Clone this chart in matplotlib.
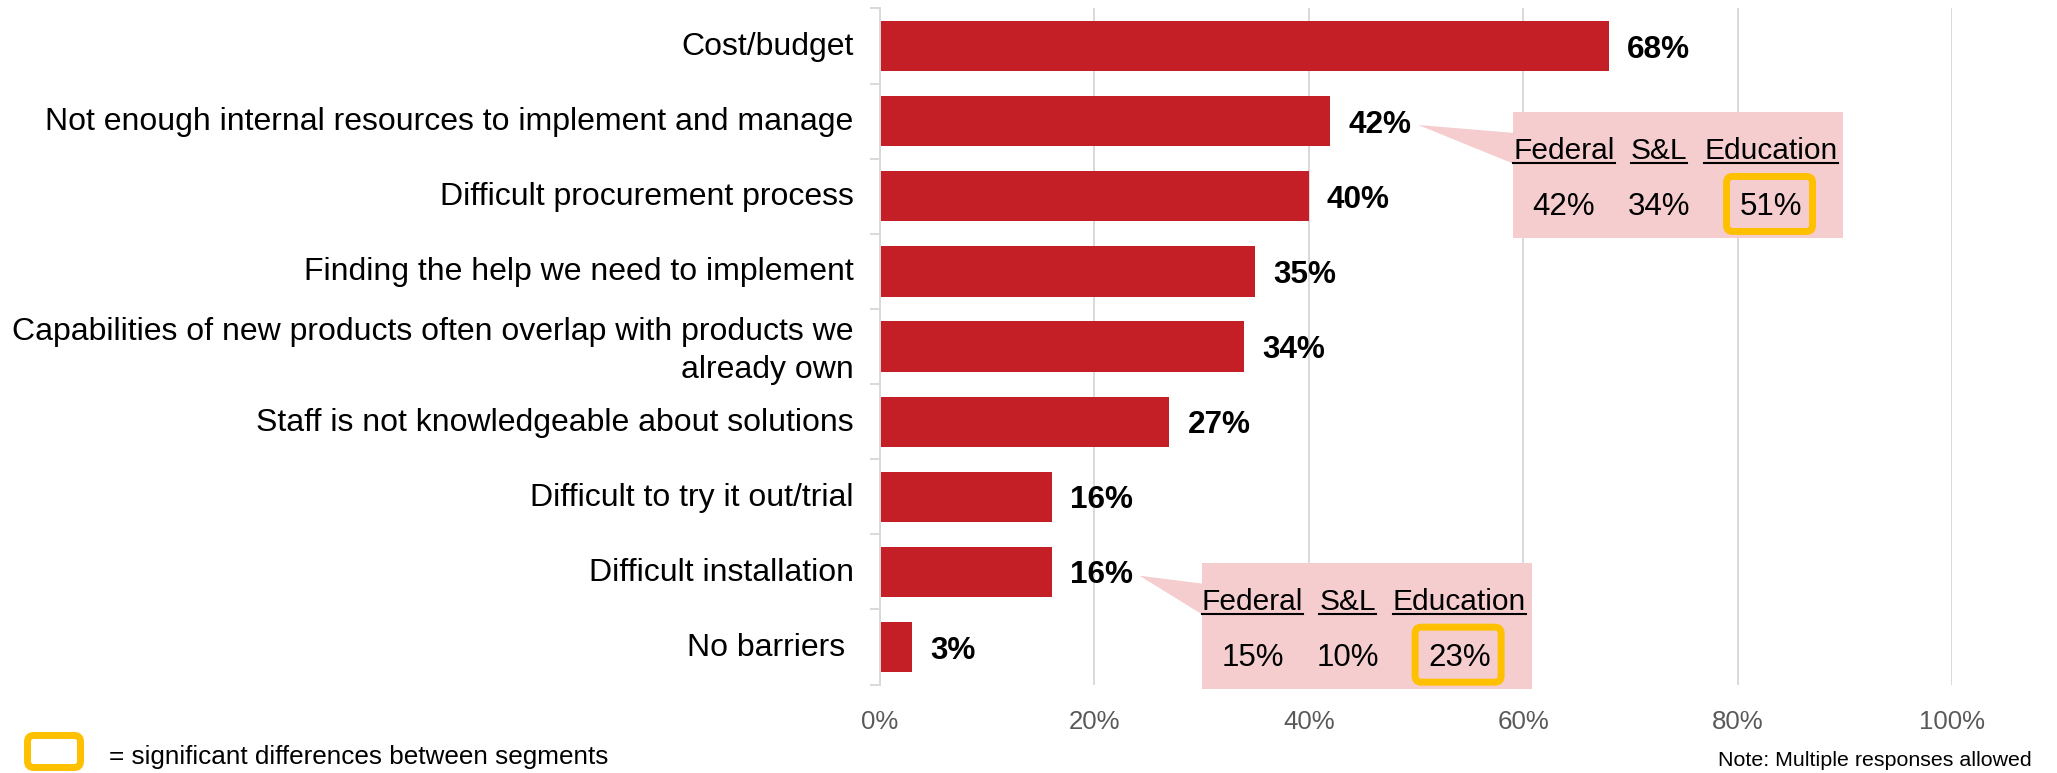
import matplotlib
matplotlib.use("Agg")
import matplotlib.pyplot as plt
from matplotlib.patches import FancyBboxPatch, Polygon, Rectangle
from matplotlib.lines import Line2D
from matplotlib.ticker import FixedLocator
from matplotlib.transforms import ScaledTranslation

plt.rcParams['font.family'] = ['Liberation Sans', 'DejaVu Sans']

# ---- data ----
categories = [
    "Cost/budget",
    "Not enough internal resources to implement and manage",
    "Difficult procurement process",
    "Finding the help we need to implement",
    "Capabilities of new products often overlap with products we\nalready own",
    "Staff is not knowledgeable about solutions",
    "Difficult to try it out/trial",
    "Difficult installation",
    "No barriers ",
]
values = [68, 42, 40, 35, 34, 27, 16, 16, 3]
x_ticks = [0, 20, 40, 60, 80, 100]
x_tick_labels = ["0%", "20%", "40%", "60%", "80%", "100%"]

segments = ["Federal", "S&L", "Education"]
resources_by_segment = [42, 34, 51]      # "Not enough internal resources..."
installation_by_segment = [15, 10, 23]   # "Difficult installation"
significant_segment = "Education"

legend_text = "= significant differences between segments"
note_text = "Note: Multiple responses allowed"

# ---- style ----
BAR = "#C41F26"
GRID = "#D9D9D9"
PINK = "#F5CDCE"
GOLD = "#FFC000"

W, H = 2057, 773
fig = plt.figure(figsize=(W / 100, H / 100), dpi=100)
fig.patch.set_facecolor("white")


def fig_xy(px, py):
    """Top-origin pixel position -> figure fraction."""
    return px / W, 1 - py / H


ax_top, ax_bot, ax_left, ax_right = 8.5, 684.6, 880, 1952
ax = fig.add_axes([ax_left / W, 1 - ax_bot / H,
                   (ax_right - ax_left) / W, (ax_bot - ax_top) / H])

ypos = list(range(len(categories)))
ax.barh(ypos, values, height=0.67, color=BAR, zorder=2)
ax.set_xlim(0, 100)
ax.set_ylim(len(categories) - 0.5, -0.5)

ax.set_xticks(x_ticks)
ax.set_xticklabels(x_tick_labels, fontsize=18.6, color="#595959")
ax.tick_params(axis="x", length=0, pad=18.5)
ax.xaxis.grid(True, color=GRID, lw=1.4, zorder=0)
ax.set_axisbelow(True)

ax.set_yticks(ypos)
ax.set_yticklabels(categories, fontsize=23, color="black", linespacing=1.33)
ax.tick_params(axis="y", which="major", length=0, pad=19)
nudge = ScaledTranslation(0, 2.6 / 100, fig.dpi_scale_trans)
for lab in ax.get_yticklabels():
    lab.set_transform(lab.get_transform() + nudge)
ax.yaxis.set_minor_locator(FixedLocator([i - 0.5 for i in range(len(categories) + 1)]))
ax.tick_params(axis="y", which="minor", length=7, width=1.4, color=GRID)

for side in ("top", "right", "bottom"):
    ax.spines[side].set_visible(False)
ax.spines["left"].set_color(GRID)
ax.spines["left"].set_linewidth(1.4)

for i, v in enumerate(values):
    ax.annotate(f"{v}%", xy=(v, i), xytext=(13, -2.5), textcoords="offset points",
                va="center", ha="left", fontsize=22.7, fontweight="bold", color="black")

fig.canvas.draw()
renderer = fig.canvas.get_renderer()


def draw_callout(idx, box_left_pct, seg_values):
    # tip of the pointer sits just right of the bar's value label
    tx, ty = ax.transData.transform((values[idx] + 8.2, idx + 0.05))
    ty = H - ty  # top-origin pixels
    bx, _ = ax.transData.transform((box_left_pct, idx))
    top = ty - 13
    bw, bh = 330, 126
    tf = fig.transFigure

    box = Rectangle(fig_xy(bx, top + bh), bw / W, bh / H, transform=tf,
                    facecolor=PINK, edgecolor="none", zorder=5)
    fig.add_artist(box)
    tri = Polygon([fig_xy(tx, ty), fig_xy(bx + 1, top + 21), fig_xy(bx + 1, top + 52)],
                  closed=True, transform=tf, facecolor=PINK, edgecolor="none", zorder=5)
    fig.add_artist(tri)

    col_x = [bx + 51, bx + 146, bx + 258]
    for cx, seg, val in zip(col_x, segments, seg_values):
        t = fig.text(*fig_xy(cx, top + 47), seg, ha="center", va="baseline",
                     fontsize=21.5, color="black", zorder=6)
        ext = t.get_window_extent(renderer)
        uy = top + 51
        fig.add_artist(Line2D([ext.x0 / W, ext.x1 / W], [1 - uy / H] * 2,
                              transform=tf, color="black", lw=1.5, zorder=6))
        fig.text(*fig_xy(cx, top + 103), f"{val}%", ha="center", va="baseline",
                 fontsize=22.5, color="black", zorder=6)
        if seg == significant_segment:
            hw, hh = 86, 55
            hl = FancyBboxPatch(fig_xy(cx - 1.5 - hw / 2, top + 92 + hh / 2), hw / W, hh / H,
                                boxstyle="round,pad=0,rounding_size=0.003",
                                mutation_aspect=W / H,
                                transform=tf, facecolor="none", edgecolor=GOLD,
                                lw=5, zorder=7)
            fig.add_artist(hl)


draw_callout(1, 59.05, resources_by_segment)
draw_callout(7, 30.0, installation_by_segment)

# legend marker for significance highlight
lg = FancyBboxPatch(fig_xy(27.5, 767.5), 53 / W, 32 / H,
                    boxstyle="round,pad=0,rounding_size=0.003", mutation_aspect=W / H,
                    transform=fig.transFigure, facecolor="white", edgecolor=GOLD, lw=5)
fig.add_artist(lg)
fig.text(*fig_xy(109, 757), legend_text, ha="left", va="center", fontsize=18.8, color="black")
fig.text(*fig_xy(2032, 760), note_text, ha="right", va="center", fontsize=15.4, color="black")

fig.savefig("out.png", dpi=100, facecolor="white")
